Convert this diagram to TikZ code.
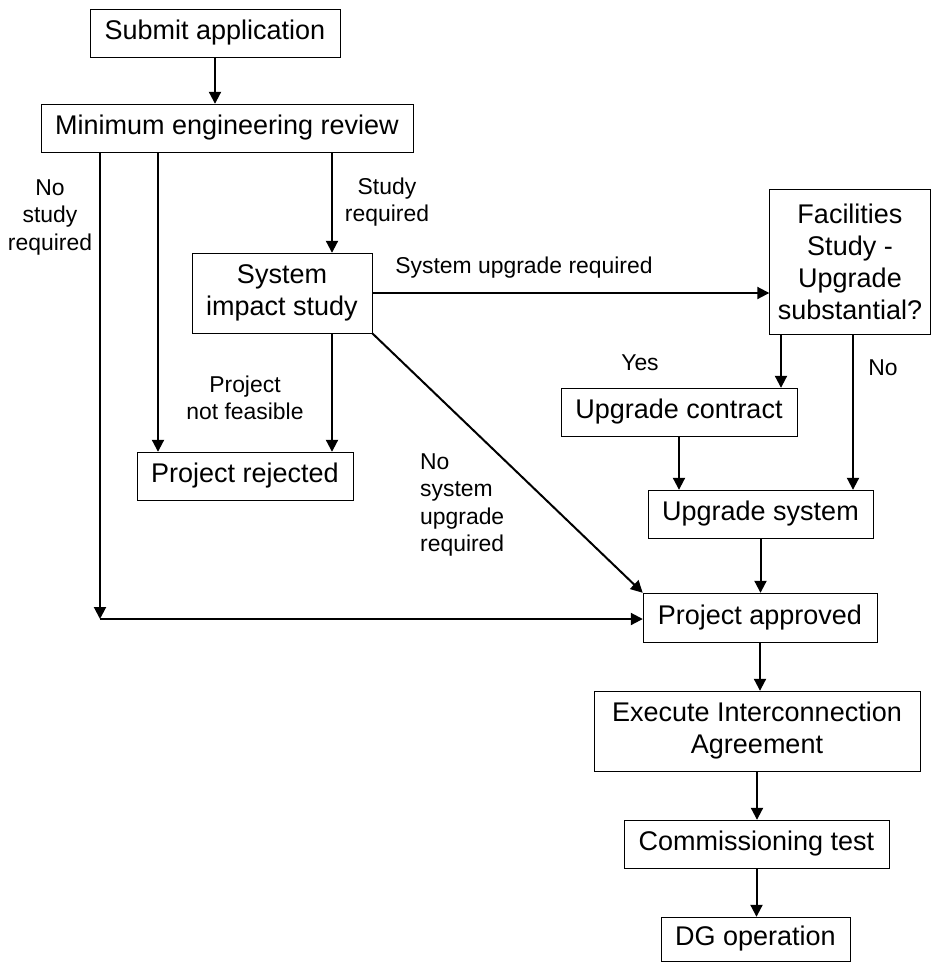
\documentclass[tikz,border=0pt]{standalone}
\usepackage{fontspec}
\setmainfont{Liberation Sans}
\usepackage{xcolor}
\usetikzlibrary{arrows.meta, calc, positioning}
\tikzset{
	line width = 1.3pt,
	>={Triangle[length=12pt,width=12pt]},
	block/.style={
		draw,
		rectangle,
		align=center,
		inner sep=0pt,
		font=\fontsize{27}{32}\selectfont
	},
	flow/.style={
		->,
		line width=2pt
	},
	note/.style={
		align=center,
		inner sep=0pt,
		font=\fontsize{22.9}{27.5}\selectfont
	}
}

\begin{document}
\begin{tikzpicture}[x=1pt, y=-1pt]
		\useasboundingbox (0,0) rectangle (932,962);

		% boxes
		\node[block, minimum width=250, minimum height=48] (submit) at (215,33) {Submit application};
		\node[block, minimum width=372, minimum height=48] (review) at (227,128) {Minimum engineering review};
		\node[block, minimum width=180, minimum height=80] (impact) at (282,293) {System\\impact study};
		\node[block, minimum width=161, minimum height=145] (facility) at (850,261.5) {Facilities\\Study -\\Upgrade\\substantial?};
		\node[block, minimum width=216, minimum height=48] (rejected) at (245,476) {Project rejected};
		\node[block, minimum width=236, minimum height=48] (contract) at (679,412) {Upgrade contract};
		\node[block, minimum width=225, minimum height=48] (upgrade) at (760.5,514) {Upgrade system};
		\node[block, minimum width=234, minimum height=49] (approved) at (760,617.5) {Project approved};
		\node[block, minimum width=326, minimum height=80] (execute) at (757,731) {Execute Interconnection\\Agreement};
		\node[block, minimum width=265, minimum height=48] (commission) at (756.5,844) {Commissioning test};
		\node[block, minimum width=189, minimum height=44] (operation) at (755.5,939) {DG operation};

		% labels
		\node[note] (nostudy) at (50,217) {No\\study\\required};
		\node[note] (study) at (387,202) {Study\\required};
		\node[note] (sysup) at (524,268) {System upgrade required};
		\node[note] (notfeas) at (245,398) {Project\\not feasible};
		\node[note, align=left, anchor=west] (nosysup) at (420,505) {No\\system\\upgrade\\required};
		\node[note] (yes) at (640,363) {Yes};
		\node[note] (no) at (883,368) {No};

		\coordinate (corner) at (100,619);

		\draw[flow] (submit.south) -- (submit.south |- review.north);
		\draw[flow] ([xshift=-127pt]review.south) -- (corner);
		\draw[flow] (corner) -- (corner -| approved.west);
		\draw[flow] ([xshift=-69pt]review.south) -- ([xshift=-69pt]review.south |- rejected.north);
		\draw[flow] ([xshift=105pt]review.south) -- ([xshift=105pt]review.south |- impact.north);
		\draw[flow] ([xshift=50pt]impact.south) -- ([xshift=50pt]impact.south |- rejected.north);
		\draw[flow] (impact.east) -- (impact.east -| facility.west);
		\draw[flow] (impact.south east) -- (approved.north west);
		\draw[flow] ([xshift=-69pt]facility.south) -- ([xshift=-69pt]facility.south |- contract.north);
		\draw[flow] ([xshift=3pt]facility.south) -- ([xshift=3pt]facility.south |- upgrade.north);
		\draw[flow] (contract.south) -- (contract.south |- upgrade.north);
		\draw[flow] (upgrade.south) -- (upgrade.south |- approved.north);
		\draw[flow] (approved.south) -- (approved.south |- execute.north);
		\draw[flow] (execute.south) -- (execute.south |- commission.north);
		\draw[flow] (commission.south) -- (commission.south |- operation.north);
	\end{tikzpicture}
\end{document}
